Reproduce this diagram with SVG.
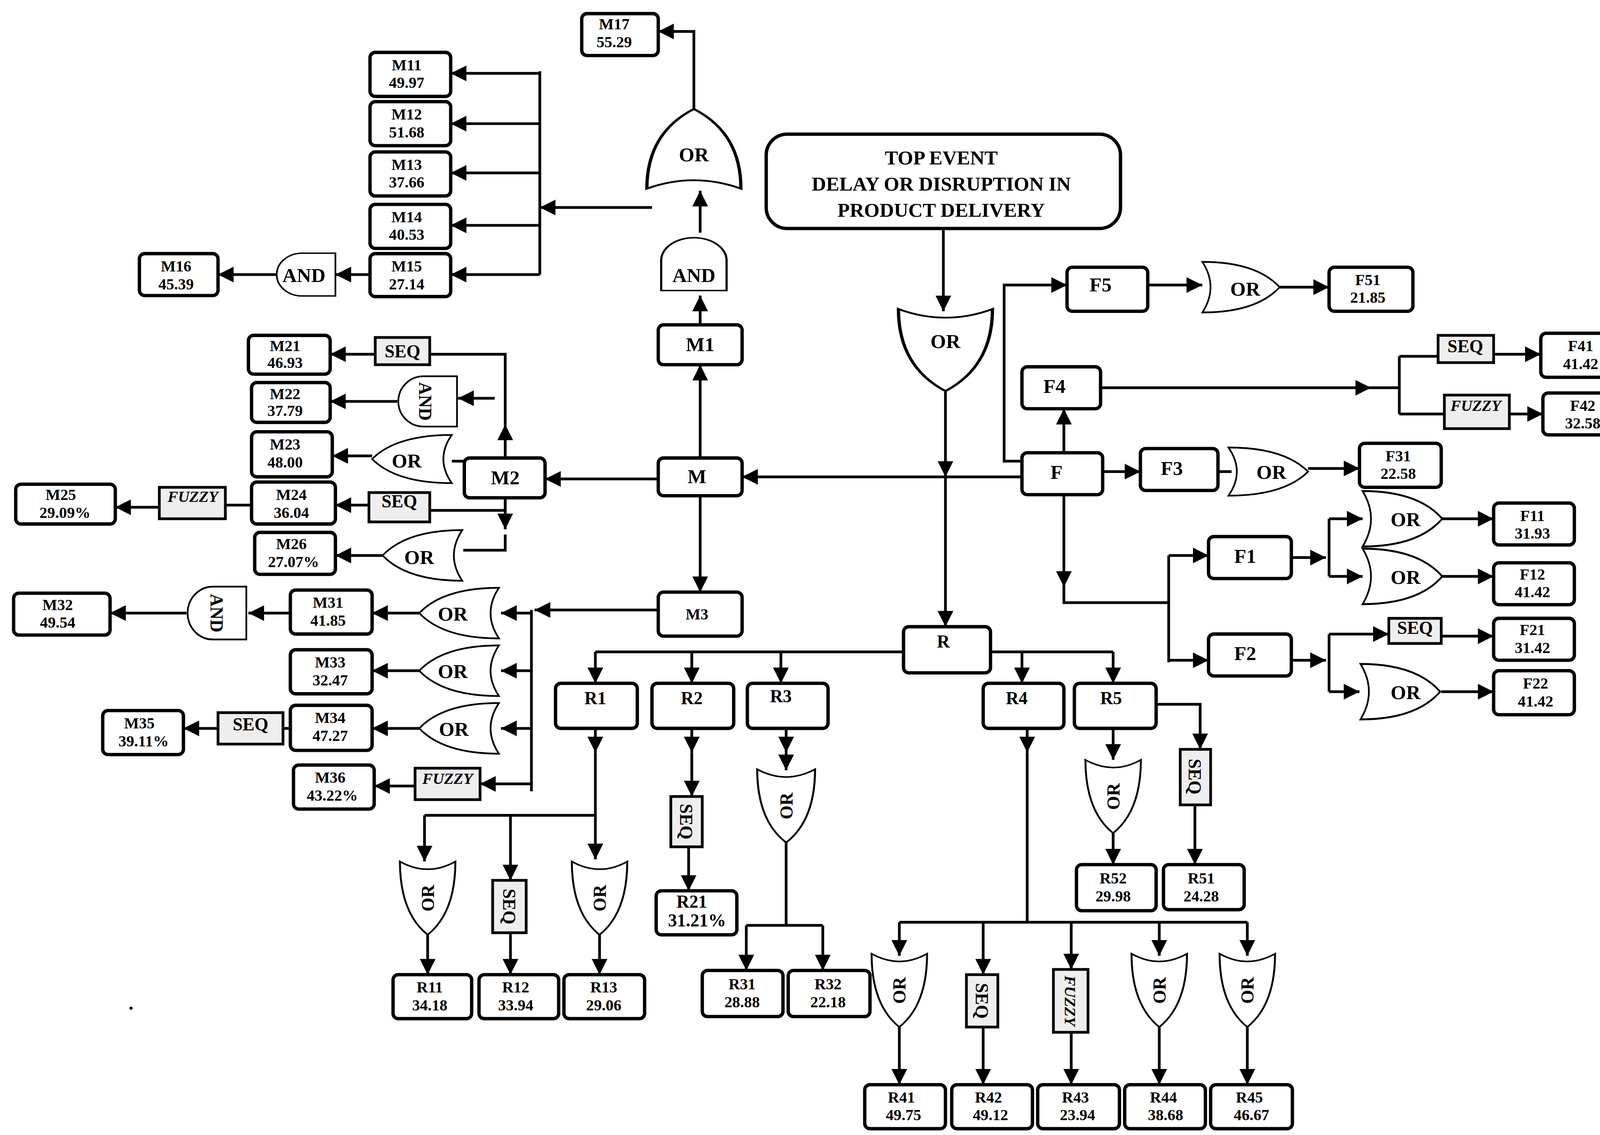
<svg xmlns="http://www.w3.org/2000/svg" xmlns:xlink="http://www.w3.org/1999/xlink" width="4186" height="2906" viewBox="0 0 4186 2906">
<style>
.b{fill:#fff;stroke:#000;stroke-width:3.2}
.g{fill:#fff;stroke:#000;stroke-width:1.6}
.s{fill:#eee;stroke:#000;stroke-width:2.6}
.c path{fill:none;stroke:#000;stroke-width:2.6;marker-end:url(#ah)}
.c .n{marker-end:none}
text{font-family:"Liberation Serif",serif;font-weight:bold;fill:#000;text-anchor:middle}
.t{font-size:15px}
.l{font-size:19px}
.q{font-size:17px}
.f{font-size:15px;font-style:italic}
</style>
<defs>
<marker id="ah" viewBox="0 0 10 10" refX="10" refY="5" markerWidth="15" markerHeight="15" markerUnits="userSpaceOnUse" orient="auto"><path d="M0,0 L10,5 L0,10 Z" fill="#000"/></marker>
<path id="or" d="M-38,-23 Q-22,0 -38,23 Q15,23 38,0 Q15,-23 -38,-23 Z"/>
<path id="and" d="M-28,-24 H4 A24,24 0 0 1 4,24 H-28 Z"/>
</defs>
<rect width="4186" height="2906" fill="#fff"/>
<g transform="scale(2.6833)">
<g class="c">
<path d="M900,218 V297"/><path d="M902,372 V455"/><path d="M902,455 V598"/>
<path d="M975,455 H708"/>
<path d="M668,437 V348"/><path d="M668,310 V282"/><path d="M668,222 V182"/>
<path d="M662,105 V30 H628"/>
<path d="M622,198 H515"/><path class="n" d="M515,68 V262"/>
<path d="M515,70 H430"/><path d="M515,118 H430"/><path d="M515,165 H430"/><path d="M515,215 H430"/><path d="M515,262 H430"/>
<path d="M353,262 H320"/><path d="M264,262 H208"/>
<path d="M628,457 H520"/>
<path d="M482,437 V405"/><path class="n" d="M482,405 V338 H410"/><path d="M358,338 H315"/>
<path d="M472,380 H437"/><path d="M379,383 H315"/>
<path class="n" d="M443,440 H431"/><path d="M355,435 H317"/>
<path class="n" d="M482,475 V487 H410"/><path d="M352,482 H320"/>
<path class="n" d="M240,482 H215"/><path d="M152,484 H110"/>
<path d="M482,475 V505"/><path class="n" d="M482,510 V525 H442"/><path d="M365,530 H320"/>
<path d="M668,473 V565"/><path d="M628,582 H510"/><path class="n" d="M507,582 V755"/>
<path d="M507,585 H478"/><path d="M400,585 H355"/><path d="M277,585 H237"/><path d="M178,585 H105"/>
<path d="M507,640 H478"/><path d="M400,640 H355"/>
<path d="M507,695 H478"/><path d="M400,695 H355"/><path class="n" d="M277,695 H270"/><path d="M208,695 H175"/>
<path d="M507,748 H458"/><path d="M396,750 H357"/>
<path class="n" d="M568,622 H862"/><path class="n" d="M945,622 H1062"/>
<path d="M568,622 V652"/><path d="M660,622 V652"/><path d="M745,622 V652"/><path d="M975,622 V652"/><path d="M1062,622 V652"/>
<path d="M568,695 V718"/><path d="M568,718 V820"/><path class="n" d="M405,778 H568"/>
<path d="M405,778 V822"/><path d="M487,778 V840"/>
<path d="M408,890 V930"/><path d="M487,890 V930"/><path d="M572,890 V930"/>
<path d="M660,695 V718"/><path d="M660,718 V760"/><path d="M657,808 V850"/>
<path d="M750,695 V718"/><path d="M750,718 V735"/><path class="n" d="M750,803 V883"/><path class="n" d="M712,883 H785"/>
<path d="M712,883 V926"/><path d="M785,883 V926"/>
<path d="M980,695 V718"/><path class="n" d="M980,718 V880"/><path class="n" d="M858,880 H1190"/>
<path d="M858,880 V912"/><path d="M938,880 V930"/><path d="M1022,880 V925"/><path d="M1106,880 V912"/><path d="M1190,880 V912"/>
<path d="M858,980 V1035"/><path d="M938,980 V1035"/><path d="M1022,985 V1035"/><path d="M1106,980 V1035"/><path d="M1190,980 V1035"/>
<path d="M1062,695 V725"/><path d="M1062,795 V825"/>
<path d="M1103,672 H1145 V715"/><path d="M1140,768 V825"/>
<path d="M1052,450 H1088"/><path class="n" d="M1162,450 H1175"/><path d="M1248,447 H1297"/>
<path d="M1015,432 V390"/><path d="M1050,370 H1308"/><path class="n" d="M1308,370 H1335"/><path class="n" d="M1335,340 V395"/>
<path class="n" d="M1335,340 H1372"/><path d="M1425,338 H1470"/><path class="n" d="M1335,395 H1378"/><path d="M1440,395 H1472"/>
<path d="M975,440 H958 V272 H1018"/><path d="M1095,272 H1147"/><path d="M1220,274 H1268"/>
<path d="M1015,472 V560"/><path class="n" d="M1015,560 V575 H1115"/><path class="n" d="M1115,530 V632"/>
<path d="M1115,530 H1153"/><path d="M1115,630 H1153"/>
<path d="M1232,532 H1265"/><path class="n" d="M1268,495 V550"/><path d="M1268,495 H1300"/><path d="M1268,550 H1300"/>
<path d="M1375,495 H1425"/><path d="M1375,550 H1425"/>
<path d="M1232,630 H1265"/><path class="n" d="M1268,605 V660"/><path d="M1268,605 H1325"/><path d="M1375,607 H1425"/><path d="M1268,660 H1297"/><path d="M1375,660 H1425"/>
</g>

<g id="top"><rect class="b" x="731" y="128" width="338" height="90" rx="20" stroke-width="5"/>
<text class="l" x="898" y="157">TOP EVENT</text><text class="l" x="898" y="182">DELAY OR DISRUPTION IN</text><text class="l" x="898" y="207">PRODUCT DELIVERY</text></g>
<g id="gTop"><use href="#or" class="g" transform="translate(902,334) rotate(90) scale(1.03,1.95)"/><text class="l" x="902" y="332">OR</text></g>

<g id="nM"><rect class="b" x="628" y="437" width="80" height="36" rx="5"/><text class="l" x="665" y="461">M</text></g>
<g id="nM1"><rect class="b" x="628" y="310" width="80" height="38" rx="5"/><text class="l" x="668" y="335">M1</text></g>
<g id="gM1and"><use href="#and" class="g" transform="translate(662,252) rotate(-90) scale(0.9,1.3)"/><text class="l" x="662" y="269">AND</text></g>
<g id="gM1or"><use href="#or" class="g" transform="translate(662,142) rotate(-90) scale(1,1.95)"/><text class="l" x="662" y="154">OR</text></g>
<g id="nM17"><rect class="b" x="555" y="13" width="73" height="40" rx="5"/><text class="t" x="586" y="28">M17</text><text class="t" x="586" y="45">55.29</text></g>
<g id="nM11"><rect class="b" x="353" y="50" width="77" height="42" rx="5"/><text class="t" x="388" y="67">M11</text><text class="t" x="388" y="84">49.97</text></g>
<g id="nM12"><rect class="b" x="353" y="97" width="77" height="42" rx="5"/><text class="t" x="388" y="114">M12</text><text class="t" x="388" y="131">51.68</text></g>
<g id="nM13"><rect class="b" x="353" y="145" width="77" height="42" rx="5"/><text class="t" x="388" y="162">M13</text><text class="t" x="388" y="179">37.66</text></g>
<g id="nM14"><rect class="b" x="353" y="195" width="77" height="42" rx="5"/><text class="t" x="388" y="212">M14</text><text class="t" x="388" y="229">40.53</text></g>
<g id="nM15"><rect class="b" x="353" y="242" width="77" height="41" rx="5"/><text class="t" x="388" y="259">M15</text><text class="t" x="388" y="276">27.14</text></g>
<g id="gM15and"><use href="#and" class="g" transform="translate(292,262) scale(-1,0.85)"/><text class="l" x="290" y="269">AND</text></g>
<g id="nM16"><rect class="b" x="133" y="242" width="75" height="40" rx="5"/><text class="t" x="168" y="259">M16</text><text class="t" x="168" y="276">45.39</text></g>

<g id="nM2"><rect class="b" x="443" y="437" width="77" height="38" rx="5"/><text class="l" x="482" y="462">M2</text></g>
<g id="sM21"><rect class="s" x="358" y="322" width="52" height="26"/><text class="q" x="384" y="341">SEQ</text></g>
<g id="nM21"><rect class="b" x="237" y="320" width="78" height="37" rx="5"/><text class="t" x="272" y="335">M21</text><text class="t" x="272" y="351">46.93</text></g>
<g id="gM22"><use href="#and" class="g" transform="translate(408,383) scale(-1,1)"/><text class="q" x="0" y="0" transform="translate(406,383) rotate(90)" dy="6">AND</text></g>
<g id="nM22"><rect class="b" x="240" y="365" width="75" height="38" rx="5"/><text class="t" x="272" y="381">M22</text><text class="t" x="272" y="397">37.79</text></g>
<g id="gM23"><use href="#or" class="g" transform="translate(393,438) scale(-1,1)"/><text class="l" x="388" y="446">OR</text></g>
<g id="nM23"><rect class="b" x="240" y="412" width="77" height="43" rx="5"/><text class="t" x="272" y="429">M23</text><text class="t" x="272" y="446">48.00</text></g>
<g id="sM24"><rect class="s" x="352" y="470" width="58" height="28"/><text class="q" x="381" y="484">SEQ</text></g>
<g id="nM24"><rect class="b" x="240" y="460" width="80" height="40" rx="5"/><text class="t" x="278" y="477">M24</text><text class="t" x="278" y="494">36.04</text></g>
<g id="fM25"><rect class="s" x="152" y="465" width="63" height="30"/><text class="f" x="184" y="479">FUZZY</text></g>
<g id="nM25"><rect class="b" x="15" y="462" width="95" height="38" rx="5"/><text class="t" x="58" y="477">M25</text><text class="t" x="62" y="494">29.09%</text></g>
<g id="gM26"><use href="#or" class="g" transform="translate(403,530) scale(-1,1.05)"/><text class="l" x="400" y="538">OR</text></g>
<g id="nM26"><rect class="b" x="243" y="508" width="77" height="40" rx="5"/><text class="t" x="278" y="524">M26</text><text class="t" x="280" y="541">27.07%</text></g>

<g id="nM3"><rect class="b" x="628" y="565" width="80" height="42" rx="5"/><text class="t" x="665" y="591">M3</text></g>
<g id="gM31"><use href="#or" class="g" transform="translate(438,585) scale(-1,1.05)"/><text class="l" x="432" y="592">OR</text></g>
<g id="nM31"><rect class="b" x="277" y="563" width="78" height="42" rx="5"/><text class="t" x="313" y="580">M31</text><text class="t" x="313" y="597">41.85</text></g>
<g id="gM32"><use href="#and" class="g" transform="translate(207,585) scale(-1,1.05)"/><text class="q" x="0" y="0" transform="translate(207,585) rotate(90)" dy="6">AND</text></g>
<g id="nM32"><rect class="b" x="13" y="566" width="92" height="40" rx="5"/><text class="t" x="55" y="582">M32</text><text class="t" x="55" y="599">49.54</text></g>
<g id="gM33"><use href="#or" class="g" transform="translate(438,640) scale(-1,1.05)"/><text class="l" x="432" y="647">OR</text></g>
<g id="nM33"><rect class="b" x="277" y="620" width="78" height="42" rx="5"/><text class="t" x="315" y="637">M33</text><text class="t" x="315" y="654">32.47</text></g>
<g id="gM34"><use href="#or" class="g" transform="translate(438,695) scale(-1,1.05)"/><text class="l" x="433" y="702">OR</text></g>
<g id="nM34"><rect class="b" x="277" y="673" width="78" height="43" rx="5"/><text class="t" x="315" y="690">M34</text><text class="t" x="315" y="707">47.27</text></g>
<g id="sM35"><rect class="s" x="208" y="680" width="62" height="30"/><text class="q" x="239" y="697">SEQ</text></g>
<g id="nM35"><rect class="b" x="98" y="678" width="77" height="42" rx="5"/><text class="t" x="133" y="695">M35</text><text class="t" x="137" y="712">39.11%</text></g>
<g id="fM36"><rect class="s" x="396" y="733" width="62" height="30"/><text class="f" x="427" y="748">FUZZY</text></g>
<g id="nM36"><rect class="b" x="280" y="730" width="77" height="42" rx="5"/><text class="t" x="315" y="747">M36</text><text class="t" x="317" y="764">43.22%</text></g>

<g id="nR"><rect class="b" x="862" y="598" width="83" height="44" rx="5"/><text class="q" x="900" y="618">R</text></g>
<g id="nR1"><rect class="b" x="530" y="652" width="78" height="43" rx="5"/><text class="q" x="568" y="672">R1</text></g>
<g id="nR2"><rect class="b" x="622" y="652" width="78" height="43" rx="5"/><text class="q" x="660" y="672">R2</text></g>
<g id="nR3"><rect class="b" x="713" y="652" width="77" height="43" rx="5"/><text class="q" x="745" y="670">R3</text></g>
<g id="nR4"><rect class="b" x="938" y="652" width="77" height="43" rx="5"/><text class="q" x="970" y="672">R4</text></g>
<g id="nR5"><rect class="b" x="1025" y="652" width="78" height="43" rx="5"/><text class="q" x="1060" y="672">R5</text></g>

<g id="gR11"><use href="#or" class="g" transform="translate(408,857) rotate(90) scale(0.92,1.15)"/><text class="q" transform="translate(408,857) rotate(-90)" dy="6">OR</text></g>
<g id="sR12"><rect class="s" x="470" y="840" width="32" height="50"/><text class="q" transform="translate(486,865) rotate(90)" dy="6">SEQ</text></g>
<g id="gR13"><use href="#or" class="g" transform="translate(572,857) rotate(90) scale(0.92,1.15)"/><text class="q" transform="translate(572,857) rotate(-90)" dy="6">OR</text></g>
<g id="nR11"><rect class="b" x="375" y="930" width="75" height="42" rx="5"/><text class="t" x="410" y="947">R11</text><text class="t" x="410" y="964">34.18</text></g>
<g id="nR12"><rect class="b" x="457" y="930" width="76" height="42" rx="5"/><text class="t" x="492" y="947">R12</text><text class="t" x="492" y="964">33.94</text></g>
<g id="nR13"><rect class="b" x="538" y="930" width="77" height="42" rx="5"/><text class="t" x="576" y="947">R13</text><text class="t" x="576" y="964">29.06</text></g>
<g id="sR21"><rect class="s" x="640" y="760" width="30" height="48"/><text class="q" transform="translate(655,784) rotate(90)" dy="6">SEQ</text></g>
<g id="nR21"><rect class="b" x="626" y="850" width="77" height="42" rx="5"/><text class="q" x="660" y="866">R21</text><text class="q" x="665" y="884">31.21%</text></g>
<g id="gR3"><use href="#or" class="g" transform="translate(750,769) rotate(90) scale(0.92,1.2)"/><text class="q" transform="translate(750,769) rotate(-90)" dy="6">OR</text></g>
<g id="nR31"><rect class="b" x="670" y="926" width="77" height="44" rx="5"/><text class="t" x="708" y="944">R31</text><text class="t" x="708" y="961">28.88</text></g>
<g id="nR32"><rect class="b" x="752" y="926" width="78" height="44" rx="5"/><text class="t" x="790" y="944">R32</text><text class="t" x="790" y="961">22.18</text></g>
<g id="gR41"><use href="#or" class="g" transform="translate(858,945) rotate(90) scale(0.92,1.15)"/><text class="q" transform="translate(858,945) rotate(-90)" dy="6">OR</text></g>
<g id="sR42"><rect class="s" x="922" y="930" width="30" height="50"/><text class="q" transform="translate(937,955) rotate(90)" dy="6">SEQ</text></g>
<g id="fR43"><rect class="s" x="1005" y="925" width="33" height="60"/><text class="f" transform="translate(1021,955) rotate(90)" dy="5">FUZZY</text></g>
<g id="gR44"><use href="#or" class="g" transform="translate(1106,945) rotate(90) scale(0.92,1.15)"/><text class="q" transform="translate(1106,945) rotate(-90)" dy="6">OR</text></g>
<g id="gR45"><use href="#or" class="g" transform="translate(1190,945) rotate(90) scale(0.92,1.15)"/><text class="q" transform="translate(1190,945) rotate(-90)" dy="6">OR</text></g>
<g id="nR41"><rect class="b" x="825" y="1035" width="77" height="42" rx="5"/><text class="t" x="860" y="1052">R41</text><text class="t" x="862" y="1069">49.75</text></g>
<g id="nR42"><rect class="b" x="908" y="1035" width="77" height="42" rx="5"/><text class="t" x="943" y="1052">R42</text><text class="t" x="945" y="1069">49.12</text></g>
<g id="nR43"><rect class="b" x="990" y="1035" width="78" height="42" rx="5"/><text class="t" x="1026" y="1052">R43</text><text class="t" x="1028" y="1069">23.94</text></g>
<g id="nR44"><rect class="b" x="1073" y="1035" width="77" height="42" rx="5"/><text class="t" x="1110" y="1052">R44</text><text class="t" x="1112" y="1069">38.68</text></g>
<g id="nR45"><rect class="b" x="1155" y="1035" width="78" height="42" rx="5"/><text class="t" x="1192" y="1052">R45</text><text class="t" x="1194" y="1069">46.67</text></g>
<g id="gR52"><use href="#or" class="g" transform="translate(1062,760) rotate(90) scale(0.92,1.15)"/><text class="q" transform="translate(1062,760) rotate(-90)" dy="6">OR</text></g>
<g id="sR51"><rect class="s" x="1126" y="715" width="29" height="53"/><text class="q" transform="translate(1140,741) rotate(90)" dy="6">SEQ</text></g>
<g id="nR52"><rect class="b" x="1027" y="825" width="76" height="44" rx="5"/><text class="t" x="1062" y="843">R52</text><text class="t" x="1062" y="860">29.98</text></g>
<g id="nR51"><rect class="b" x="1110" y="825" width="77" height="43" rx="5"/><text class="t" x="1146" y="843">R51</text><text class="t" x="1146" y="860">24.28</text></g>

<g id="nF"><rect class="b" x="975" y="432" width="77" height="40" rx="5"/><text class="l" x="1008" y="457">F</text></g>
<g id="nF3"><rect class="b" x="1088" y="428" width="74" height="40" rx="5"/><text class="l" x="1118" y="453">F3</text></g>
<g id="gF3"><use href="#or" class="g" transform="translate(1210,450)"/><text class="l" x="1213" y="457">OR</text></g>
<g id="nF31"><rect class="b" x="1297" y="423" width="78" height="42" rx="5"/><text class="t" x="1334" y="440">F31</text><text class="t" x="1334" y="457">22.58</text></g>
<g id="nF4"><rect class="b" x="975" y="350" width="75" height="40" rx="5"/><text class="l" x="1006" y="375">F4</text></g>
<g id="sF41"><rect class="s" x="1372" y="320" width="53" height="26"/><text class="q" x="1398" y="336">SEQ</text></g>
<g id="nF41"><rect class="b" x="1470" y="318" width="80" height="42" rx="5"/><text class="t" x="1508" y="335">F41</text><text class="t" x="1508" y="352">41.42</text></g>
<g id="fF42"><rect class="s" x="1378" y="377" width="62" height="32"/><text class="f" x="1408" y="392">FUZZY</text></g>
<g id="nF42"><rect class="b" x="1472" y="375" width="81" height="40" rx="5"/><text class="t" x="1510" y="392">F42</text><text class="t" x="1510" y="409">32.58</text></g>
<g id="nF5"><rect class="b" x="1018" y="255" width="77" height="42" rx="5"/><text class="l" x="1050" y="278">F5</text></g>
<g id="gF5"><use href="#or" class="g" transform="translate(1184,274) scale(0.97,1.05)"/><text class="l" x="1188" y="282">OR</text></g>
<g id="nF51"><rect class="b" x="1268" y="255" width="80" height="42" rx="5"/><text class="t" x="1305" y="272">F51</text><text class="t" x="1305" y="289">21.85</text></g>
<g id="nF1"><rect class="b" x="1153" y="512" width="79" height="40" rx="5"/><text class="l" x="1188" y="537">F1</text></g>
<g id="nF2"><rect class="b" x="1153" y="605" width="79" height="40" rx="5"/><text class="l" x="1188" y="630">F2</text></g>
<g id="gF11"><use href="#or" class="g" transform="translate(1338,495) scale(1,1.15)"/><text class="l" x="1341" y="502">OR</text></g>
<g id="gF12"><use href="#or" class="g" transform="translate(1338,550) scale(1,1.15)"/><text class="l" x="1341" y="557">OR</text></g>
<g id="nF11"><rect class="b" x="1425" y="480" width="77" height="40" rx="5"/><text class="t" x="1462" y="497">F11</text><text class="t" x="1462" y="514">31.93</text></g>
<g id="nF12"><rect class="b" x="1425" y="537" width="77" height="40" rx="5"/><text class="t" x="1462" y="553">F12</text><text class="t" x="1462" y="570">41.42</text></g>
<g id="sF21"><rect class="s" x="1325" y="590" width="50" height="24"/><text class="q" x="1350" y="605">SEQ</text></g>
<g id="gF22"><use href="#or" class="g" transform="translate(1336,660) scale(1,1.15)"/><text class="l" x="1341" y="667">OR</text></g>
<g id="nF21"><rect class="b" x="1425" y="590" width="77" height="40" rx="5"/><text class="t" x="1462" y="606">F21</text><text class="t" x="1462" y="623">31.42</text></g>
<g id="nF22"><rect class="b" x="1425" y="640" width="77" height="42" rx="5"/><text class="t" x="1465" y="657">F22</text><text class="t" x="1465" y="674">41.42</text></g>
<circle cx="125" cy="962" r="1.5" fill="#000"/>
</g>
</svg>
